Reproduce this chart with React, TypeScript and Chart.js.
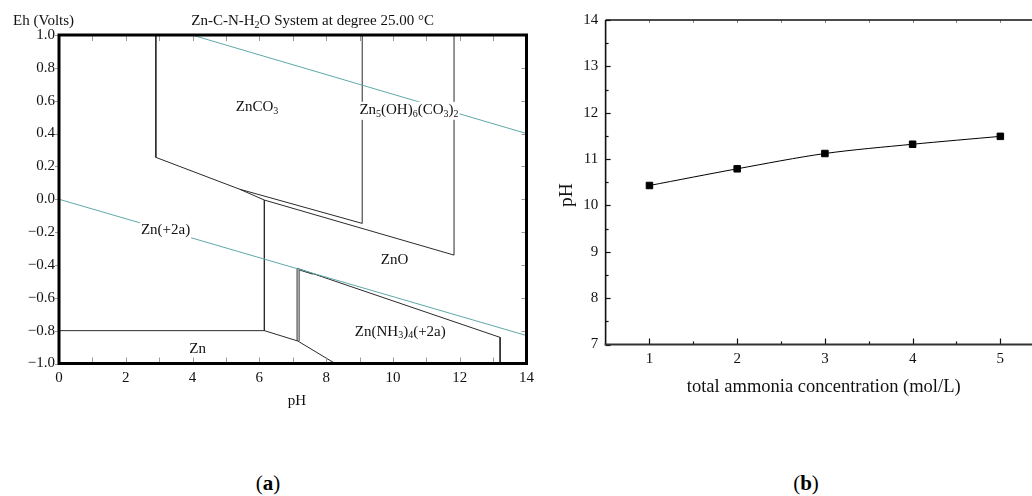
import React, { useEffect, useRef } from 'react';
import { Chart, registerables } from 'chart.js';

Chart.register(...registerables);

const FONT = '"Liberation Serif", "Times New Roman", serif';

// ---------- Panel (a): Eh–pH diagram ----------
const titleA = 'Zn-C-N-H_2O System at degree 25.00 °C';
const ehAxisTitle = 'Eh (Volts)';
const phAxisTitle = 'pH';
const phTicks = [0, 2, 4, 6, 8, 10, 12, 14];
const phMinorTicks = [1, 2, 3, 4, 5, 6, 7, 8, 9, 10, 11, 12, 13];
const ehTicks = [-1.0, -0.8, -0.6, -0.4, -0.2, 0.0, 0.2, 0.4, 0.6, 0.8, 1.0];

const waterUpper = [[3.98, 1.0], [14, 0.4]];
const waterLower = [[0, 0.0], [14, -0.83]];
const znco3Boundary = [[2.9, 1.0], [2.9, 0.255], [5.41, 0.061], [9.08, -0.147], [9.08, 1.0]];
const hydrozinciteBoundary = [[5.41, 0.061], [6.15, -0.005], [11.83, -0.34], [11.83, 1.0]];
const znIonBoundary = [[6.15, -0.005], [6.15, -0.8], [0, -0.8]];
const znMetalBoundary = [[6.15, -0.8], [7.15, -0.863], [8.27, -1.0]];
const ammineBoundaryOuter = [[7.13, -0.863], [7.13, -0.42], [13.21, -0.841], [13.21, -1.0]];
const ammineBoundaryInner = [[7.19, -0.863], [7.19, -0.43], [7.6, -0.456]];

const regionNames = ['ZnCO_3', 'Zn_5(OH)_6(CO_3)_2', 'Zn(+2a)', 'ZnO', 'Zn(NH_3)_4(+2a)', 'Zn'];
const regionPH = [5.93, 10.48, 3.19, 10.05, 10.22, 4.15];
const regionEh = [0.563, 0.543, -0.187, -0.37, -0.806, -0.912];

// ---------- Panel (b): pH vs ammonia ----------
const ammoniaConc = [1, 2, 3, 4, 5];
const solutionPH = [10.43, 10.79, 11.12, 11.32, 11.49];
const ammoniaTicks = [1, 2, 3, 4, 5];
const ammoniaMinorTicks = [1.5, 2.5, 3.5, 4.5];
const ammoniaRange = [0.5, 5.297]; // visible part of the axis (the figure is cropped at the right)
const phValueTicks = [7, 8, 9, 10, 11, 12, 13, 14];
const phValueMinorTicks = [7.5, 8.5, 9.5, 10.5, 11.5, 12.5, 13.5];
const xTitleB = 'total ammonia concentration (mol/L)';
const yTitleB = 'pH';

const toXY = (arr: number[][]) => arr.map(([x, y]) => ({ x, y }));

function parseRich(s: string) {
  const segs: { t: string; sub: boolean }[] = [];
  let buf = '';
  for (let i = 0; i < s.length; i++) {
    if (s[i] === '_' && i + 1 < s.length) {
      if (buf) segs.push({ t: buf, sub: false });
      buf = '';
      segs.push({ t: s[i + 1], sub: true });
      i++;
    } else buf += s[i];
  }
  if (buf) segs.push({ t: buf, sub: false });
  return segs;
}

function drawRich(ctx: CanvasRenderingContext2D, s: string, cx: number, cy: number, size: number, bg: boolean) {
  const segs = parseRich(s);
  const subSize = Math.round(size * 0.68);
  let w = 0;
  const widths = segs.map((g) => {
    ctx.font = `${g.sub ? subSize : size}px ${FONT}`;
    const m = ctx.measureText(g.t).width;
    w += m;
    return m;
  });
  let x = cx - w / 2;
  if (bg) {
    ctx.fillStyle = '#fff';
    ctx.fillRect(x - 1, cy - size * 0.55, w + 2, size * 1.2);
  }
  ctx.fillStyle = '#111';
  ctx.textAlign = 'left';
  ctx.textBaseline = 'middle';
  segs.forEach((g, i) => {
    ctx.font = `${g.sub ? subSize : size}px ${FONT}`;
    ctx.fillText(g.t, x, g.sub ? cy + size * 0.28 : cy);
    x += widths[i];
  });
}

function line(ctx: CanvasRenderingContext2D, x1: number, y1: number, x2: number, y2: number) {
  ctx.beginPath();
  ctx.moveTo(x1, y1);
  ctx.lineTo(x2, y2);
  ctx.stroke();
}

const fmtEh = (v: number) => {
  if (Math.abs(v) < 1e-9) return '0.0';
  const s = Math.abs(v).toFixed(1);
  return v < 0 ? '\u2212' + s : s;
};

const panelAPlugin = {
  id: 'panelA',
  afterDraw(chart: any) {
    const ctx: CanvasRenderingContext2D = chart.ctx;
    const { left, right, top, bottom } = chart.chartArea;
    const xs = chart.scales.x;
    const ys = chart.scales.y;
    ctx.save();
    regionNames.forEach((n, i) => {
      drawRich(ctx, n, xs.getPixelForValue(regionPH[i]), ys.getPixelForValue(regionEh[i]), 15, true);
    });
    ctx.strokeStyle = '#9a9a9a';
    ctx.lineWidth = 1;
    phMinorTicks.forEach((v) => {
      const x = Math.round(xs.getPixelForValue(v)) + 0.5;
      line(ctx, x, bottom, x, bottom - 6);
      line(ctx, x, top, x, top + 6);
    });
    ehTicks.forEach((v) => {
      const y = Math.round(ys.getPixelForValue(v)) + 0.5;
      line(ctx, left - 4, y, left, y);
      line(ctx, right - 5, y, right, y);
    });
    ctx.strokeStyle = '#000';
    ctx.lineWidth = 3;
    ctx.strokeRect(left, top, right - left, bottom - top);
    drawRich(ctx, titleA, 312.6, 20.7, 15, false);
    ctx.fillStyle = '#111';
    ctx.font = `15px ${FONT}`;
    ctx.textAlign = 'center';
    ctx.textBaseline = 'middle';
    ctx.fillText(ehAxisTitle, 43.6, 21);
    ctx.fillText(phAxisTitle, 297, 400.7);
    ctx.restore();
  },
};

const panelBPlugin = {
  id: 'panelB',
  afterDraw(chart: any) {
    const ctx: CanvasRenderingContext2D = chart.ctx;
    const { left, top, bottom } = chart.chartArea;
    const edge = chart.width;
    const xs = chart.scales.x;
    const ys = chart.scales.y;
    ctx.save();
    ctx.strokeStyle = '#111';
    ctx.lineWidth = 1.2;
    phValueTicks.forEach((v) => {
      const y = Math.round(ys.getPixelForValue(v)) + 0.5;
      line(ctx, left, y, left + 5, y);
    });
    phValueMinorTicks.forEach((v) => {
      const y = Math.round(ys.getPixelForValue(v)) + 0.5;
      line(ctx, left, y, left + 3, y);
    });
    ammoniaTicks.forEach((v) => {
      const x = Math.round(xs.getPixelForValue(v)) + 0.5;
      line(ctx, x, bottom, x, bottom - 6);
    });
    ammoniaMinorTicks.forEach((v) => {
      const x = Math.round(xs.getPixelForValue(v)) + 0.5;
      line(ctx, x, bottom, x, bottom - 3);
    });
    ctx.strokeStyle = '#888';
    ctx.lineWidth = 1;
    ammoniaTicks.concat(ammoniaMinorTicks).forEach((v) => {
      const x = Math.round(xs.getPixelForValue(v)) + 0.5;
      line(ctx, x, top, x, top + 3);
    });
    ctx.strokeStyle = '#111';
    ctx.lineWidth = 1.6;
    line(ctx, left, top, edge, top);
    line(ctx, left, top, left, bottom);
    ctx.strokeStyle = '#333';
    ctx.lineWidth = 2.2;
    line(ctx, left - 1, bottom, edge, bottom);

    ctx.fillStyle = '#111';
    ctx.font = `18.5px ${FONT}`;
    ctx.textAlign = 'center';
    ctx.textBaseline = 'middle';
    ctx.fillText(xTitleB, 283.7, 386.7);
    ctx.save();
    ctx.translate(26.7, 195);
    ctx.rotate(-Math.PI / 2);
    ctx.font = `19.5px ${FONT}`;
    ctx.fillText(yTitleB, 0, 0);
    ctx.restore();
    ctx.restore();
  },
};

function PanelA() {
  const ref = useRef<HTMLCanvasElement>(null);
  useEffect(() => {
    if (!ref.current) return;
    const lineDs = (arr: number[][], color: string) => ({
      data: toXY(arr),
      showLine: true,
      borderColor: color,
      borderWidth: 1,
      pointRadius: 0,
      tension: 0,
      fill: false,
    });
    const chart = new Chart(ref.current, {
      type: 'scatter',
      data: {
        datasets: [
          lineDs(waterUpper, '#5fa8a8'),
          lineDs(waterLower, '#5fa8a8'),
          lineDs(znco3Boundary, '#2a2a2a'),
          lineDs(hydrozinciteBoundary, '#2a2a2a'),
          lineDs(znIonBoundary, '#2a2a2a'),
          lineDs(znMetalBoundary, '#2a2a2a'),
          lineDs(ammineBoundaryOuter, '#2a2a2a'),
          lineDs(ammineBoundaryInner, '#2a2a2a'),
        ],
      },
      options: {
        responsive: false,
        animation: false,
        layout: { padding: { top: 35, right: 13, left: 0, bottom: 0 } },
        plugins: { legend: { display: false }, tooltip: { enabled: false }, title: { display: false } },
        scales: {
          x: {
            type: 'linear',
            min: 0,
            max: 14,
            afterBuildTicks: (s: any) => {
              s.ticks = phTicks.map((v) => ({ value: v }));
            },
            afterFit: (s: any) => {
              s.height = 66.5;
            },
            grid: { display: false, drawTicks: false },
            border: { display: false },
            ticks: {
              autoSkip: false,
              maxRotation: 0,
              padding: 6,
              color: '#111',
              font: { family: FONT, size: 15 },
              callback: (v: any) => String(v),
            },
          },
          y: {
            type: 'linear',
            min: -1,
            max: 1,
            afterBuildTicks: (s: any) => {
              s.ticks = ehTicks.map((v) => ({ value: v }));
            },
            afterFit: (s: any) => {
              s.width = 59;
            },
            grid: { display: false, drawTicks: false },
            border: { display: false },
            ticks: {
              autoSkip: false,
              padding: 4,
              color: '#111',
              font: { family: FONT, size: 15 },
              callback: (v: any) => fmtEh(Number(v)),
            },
          },
        },
      },
      plugins: [panelAPlugin],
    } as any);
    return () => chart.destroy();
  }, []);
  return <canvas ref={ref} width={540} height={430} style={{ position: 'absolute', left: 0, top: 0 }} />;
}

function PanelB() {
  const ref = useRef<HTMLCanvasElement>(null);
  useEffect(() => {
    if (!ref.current) return;
    const chart = new Chart(ref.current, {
      type: 'scatter',
      data: {
        datasets: [
          {
            data: ammoniaConc.map((x, i) => ({ x, y: solutionPH[i] })),
            showLine: true,
            borderColor: '#000',
            borderWidth: 1,
            tension: 0.3,
            pointStyle: 'rect',
            pointRadius: 4.6,
            pointBorderWidth: 1,
            pointBackgroundColor: '#000',
            pointBorderColor: '#000',
          },
        ],
      },
      options: {
        responsive: false,
        animation: false,
        layout: { padding: { top: 20, right: 0, left: 0, bottom: 0 } },
        plugins: { legend: { display: false }, tooltip: { enabled: false }, title: { display: false } },
        scales: {
          x: {
            type: 'linear',
            min: ammoniaRange[0],
            max: ammoniaRange[1],
            afterBuildTicks: (s: any) => {
              s.ticks = ammoniaTicks.map((v) => ({ value: v }));
            },
            afterFit: (s: any) => {
              s.height = 85.5;
            },
            grid: { display: false, drawTicks: false },
            border: { display: false },
            ticks: {
              autoSkip: false,
              maxRotation: 0,
              padding: 5.5,
              color: '#111',
              font: { family: FONT, size: 15 },
              callback: (v: any) => String(v),
            },
          },
          y: {
            type: 'linear',
            min: 7,
            max: 14,
            afterBuildTicks: (s: any) => {
              s.ticks = phValueTicks.map((v) => ({ value: v }));
            },
            afterFit: (s: any) => {
              s.width = 65.6;
            },
            grid: { display: false, drawTicks: false },
            border: { display: false },
            ticks: {
              autoSkip: false,
              padding: 7.3,
              color: '#111',
              font: { family: FONT, size: 15 },
              callback: (v: any) => String(v),
            },
          },
        },
      },
      plugins: [panelBPlugin],
    } as any);
    return () => chart.destroy();
  }, []);
  return <canvas ref={ref} width={492} height={430} style={{ position: 'absolute', left: 540, top: 0 }} />;
}

const captionStyle: React.CSSProperties = {
  position: 'absolute',
  width: 100,
  top: 470,
  textAlign: 'center',
  fontFamily: FONT,
  fontSize: 21,
  lineHeight: '26px',
  color: '#000',
};

export default function App() {
  return (
    <div
      style={{
        position: 'absolute',
        left: 0,
        top: 0,
        width: 1032,
        height: 496,
        overflow: 'hidden',
        background: '#fff',
      }}
    >
      <PanelA />
      <PanelB />
      <div style={{ ...captionStyle, left: 218 }}>
        (<b>a</b>)
      </div>
      <div style={{ ...captionStyle, left: 756 }}>
        (<b>b</b>)
      </div>
    </div>
  );
}
